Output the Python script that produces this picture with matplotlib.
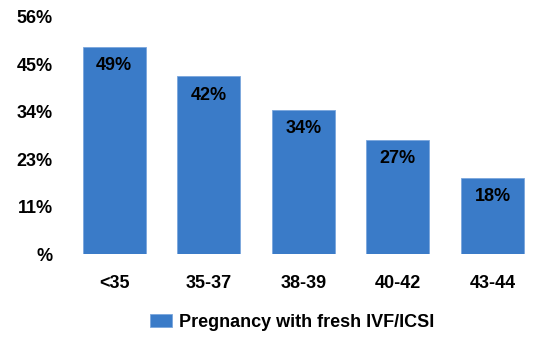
import matplotlib
matplotlib.use('Agg')
import matplotlib.pyplot as plt
import numpy as np

plt.rcParams['font.family'] = ['Liberation Sans', 'DejaVu Sans']
plt.rcParams['font.weight'] = 'bold'

age_groups = ['<35', '35-37', '38-39', '40-42', '43-44']
pregnancy_rate = [49, 42, 34, 27, 18]
tick_values = [0, 11.2, 22.4, 33.6, 44.8, 56]
tick_labels = ['%', '11%', '23%', '34%', '45%', '56%']
series_name = 'Pregnancy with fresh IVF/ICSI'

bar_color = '#3a7bc8'

fig = plt.figure(figsize=(5.52, 3.38), dpi=100)
ax = fig.add_axes([0.121, 0.2485, 0.857, 0.7015])

x = np.arange(len(age_groups))
bars = ax.bar(x, pregnancy_rate, width=0.667, color=bar_color,
              edgecolor='#7aa6dc', linewidth=0.6, label=series_name)

for xi, v in zip(x, pregnancy_rate):
    ax.annotate('%d%%' % v, (xi, v), xytext=(0, -7.5), textcoords='offset points',
                ha='center', va='top', fontsize=13, fontweight='bold', color='black')

ax.set_xlim(-0.5, len(age_groups) - 0.5)
ax.set_ylim(0, 56)
ax.set_yticks(tick_values)
ax.set_yticklabels(tick_labels)
ax.set_xticks(x)
ax.set_xticklabels(age_groups)
ax.tick_params(axis='y', length=0, pad=10, labelsize=13)
ax.tick_params(axis='x', length=0, pad=15, labelsize=13)
for s in ax.spines.values():
    s.set_visible(False)

fig.legend(handles=[bars], labels=[series_name], loc='center',
           bbox_to_anchor=(0.53, 0.047), frameon=False, fontsize=13,
           handlelength=1.2, handleheight=0.7, handletextpad=0.4)

fig.savefig('out.png', dpi=100)
